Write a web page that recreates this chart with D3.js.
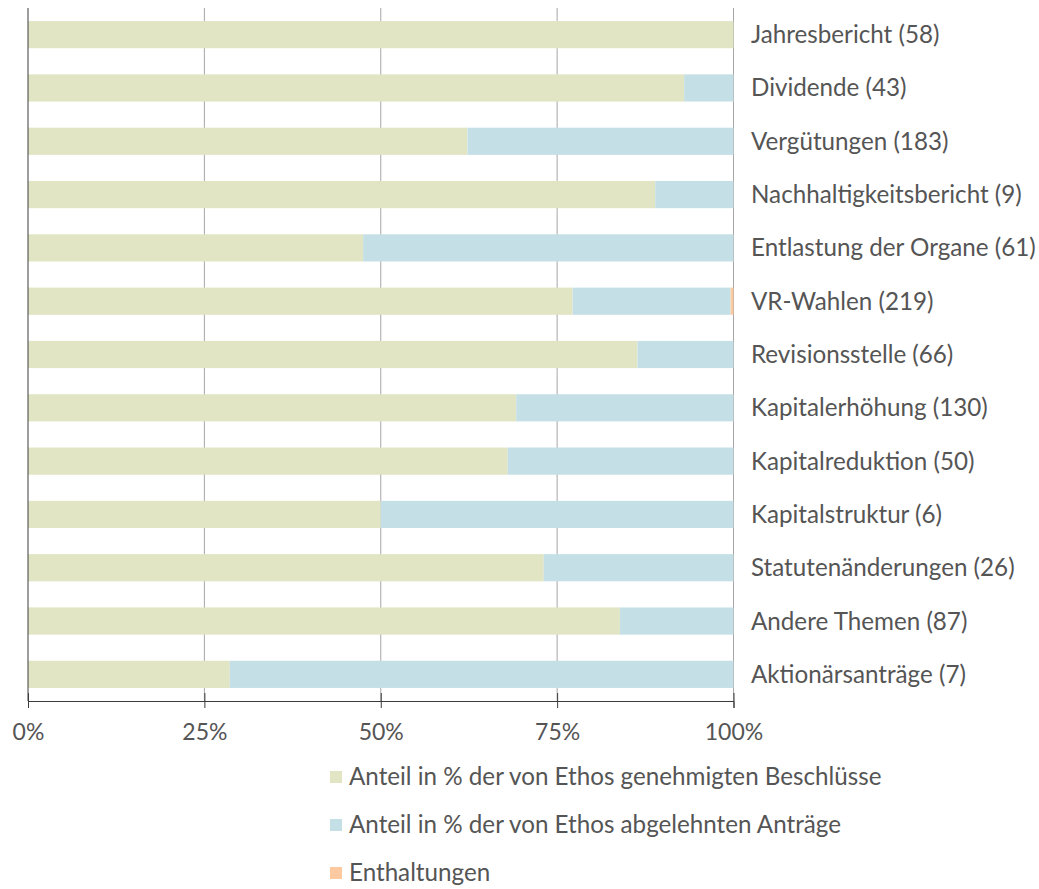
<!DOCTYPE html>
<html>
<head>
<meta charset="utf-8">
<script src="https://cdn.jsdelivr.net/npm/d3@7/dist/d3.min.js"></script>
<style>
  html, body { margin: 0; padding: 0; background: #fff; }
  svg { display: block; font-family: Lato, "Open Sans", sans-serif; }
</style>
</head>
<body>
<svg id="chart" width="1039" height="889"></svg>
<script>
// Abstimmungsthemen mit Anzahl der Anträge
const categories = [
  "Jahresbericht (58)", "Dividende (43)", "Vergütungen (183)",
  "Nachhaltigkeitsbericht (9)", "Entlastung der Organe (61)", "VR-Wahlen (219)",
  "Revisionsstelle (66)", "Kapitalerhöhung (130)", "Kapitalreduktion (50)",
  "Kapitalstruktur (6)", "Statutenänderungen (26)", "Andere Themen (87)",
  "Aktionärsanträge (7)"
];
// Anteile in %
const approved  = [100, 93.0, 62.3, 88.9, 47.5, 77.2, 86.4, 69.2, 68.0, 50.0, 73.1, 83.9, 28.6];
const rejected  = [0,    7.0, 37.7, 11.1, 52.5, 22.4, 13.6, 30.8, 32.0, 50.0, 26.9, 16.1, 71.4];
const abstained = [0,    0,    0,    0,    0,    0.4,  0,    0,    0,    0,    0,    0,    0];

const seriesNames = [
  "Anteil in % der von Ethos genehmigten Beschlüsse",
  "Anteil in % der von Ethos abgelehnten Anträge",
  "Enthaltungen"
];
const colors = ["#e1e5c4", "#c4e0e6", "#fdc9a0"];
const tickValues = [0, 25, 50, 75, 100];

const textColor = "#555555";
const svg = d3.select("#chart");
const x = d3.scaleLinear().domain([0, 100]).range([28, 733.5]);
const y = d3.scaleBand().domain(categories).range([8, 701]).paddingInner(0.49).paddingOuter(0.245);

const rows = categories.map((c, i) => ({ cat: c, vals: [approved[i], rejected[i], abstained[i]] }));
const stack = d3.stack().keys([0, 1, 2]).value((d, k) => d.vals[k]);
const stacked = stack(rows);

// Gitterlinien
svg.append("g").selectAll("line").data(tickValues.slice(1)).join("line")
  .attr("x1", d => x(d)).attr("x2", d => x(d))
  .attr("y1", 8).attr("y2", 701)
  .attr("stroke", "#a6a6a6").attr("stroke-width", 1);

// Balken
svg.append("g").selectAll("g").data(stacked).join("g")
  .attr("fill", (d, i) => colors[i])
  .selectAll("rect").data(d => d).join("rect")
  .attr("x", d => x(d[0]))
  .attr("width", d => Math.max(0, x(d[1]) - x(d[0])))
  .attr("y", d => y(d.data.cat))
  .attr("height", y.bandwidth());

// Achsen
const xAxis = svg.append("g").attr("transform", "translate(0,701)")
  .call(d3.axisBottom(x).tickValues(tickValues).tickFormat(d => d + "%").tickSize(7).tickPadding(16));
xAxis.select(".domain").attr("stroke", "#3c3c3c");
xAxis.selectAll(".tick line").attr("stroke", "#3c3c3c").attr("y1", -8);
xAxis.selectAll(".tick text").attr("fill", textColor).attr("font-size", 23).attr("font-family", "Lato");

svg.append("line").attr("x1", 28).attr("x2", 28).attr("y1", 8).attr("y2", 701)
  .attr("stroke", "#3c3c3c").attr("stroke-width", 1);

// Kategorienbeschriftung
svg.append("g").selectAll("text").data(categories).join("text")
  .attr("x", 751).attr("y", d => y(d) + y.bandwidth() / 2)
  .attr("dy", "0.35em")
  .attr("fill", textColor).attr("font-size", 24.2)
  .text(d => d);

// Legende
const legend = svg.append("g").selectAll("g").data(seriesNames).join("g")
  .attr("transform", (d, i) => `translate(330, ${777 + i * 48})`);
legend.append("rect").attr("x", 0).attr("y", -6).attr("width", 12).attr("height", 12)
  .attr("fill", (d, i) => colors[i]);
legend.append("text").attr("x", 19).attr("dy", "0.35em")
  .attr("fill", textColor).attr("font-size", 24.2).text(d => d);
</script>
</body>
</html>
